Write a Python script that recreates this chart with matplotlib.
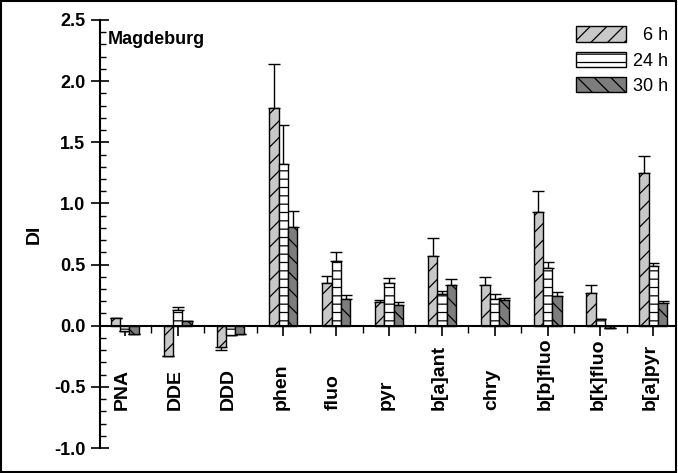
import matplotlib.pyplot as plt
import numpy as np
from matplotlib.patches import Rectangle

plt.rcParams['font.family'] = ['Liberation Sans', 'DejaVu Sans']
plt.rcParams['hatch.linewidth'] = 0.9
plt.rcParams['hatch.color'] = '#222222'

compounds = ["PNA", "DDE", "DDD", "phen", "fluo", "pyr", "b[a]ant",
             "chry", "b[b]fluo", "b[k]fluo", "b[a]pyr"]
times = ["  6 h", "24 h", "30 h"]

# DI values per exposure time
di_6h = [0.06, -0.25, -0.17, 1.78, 0.35, 0.19, 0.57, 0.33, 0.93, 0.27, 1.25]
di_24h = [-0.04, 0.13, -0.08, 1.32, 0.53, 0.35, 0.26, 0.22, 0.47, 0.055, 0.485]
di_30h = [-0.07, 0.04, -0.07, 0.81, 0.22, 0.17, 0.33, 0.21, 0.245, -0.02, 0.185]

# error (one-sided, away from zero)
err_6h = [0.0, 0.0, 0.03, 0.36, 0.06, 0.02, 0.15, 0.07, 0.17, 0.06, 0.14]
err_24h = [0.0, 0.02, 0.0, 0.32, 0.07, 0.04, 0.02, 0.04, 0.05, 0.0, 0.03]
err_30h = [0.0, 0.0, 0.0, 0.13, 0.03, 0.02, 0.05, 0.02, 0.03, 0.0, 0.02]

styles = [
    dict(color="#c8c8c8", hatch="//"),
    dict(color="white", hatch="--"),
    dict(color="#7d7d7d", hatch="\\\\"),
]

fig = plt.figure(figsize=(6.78, 4.73), dpi=100)
ax = fig.add_axes([100 / 678, 25 / 473, 576 / 678, 428 / 473])

x = np.arange(len(compounds))
w = 0.176
series = [(di_6h, err_6h), (di_24h, err_24h), (di_30h, err_30h)]
for i, ((vals, errs), st, lab) in enumerate(zip(series, styles, times)):
    vals = np.array(vals)
    errs = np.array(errs)
    lower = np.where(vals < 0, errs, 0)
    upper = np.where(vals >= 0, errs, 0)
    ax.bar(x + (i - 1) * w, vals, width=w, facecolor=st["color"],
           edgecolor="black", linewidth=1.0, hatch=st["hatch"], label=lab,
           yerr=[lower, upper], zorder=2,
           error_kw=dict(ecolor="black", elinewidth=1.0, capsize=4.2,
                         capthick=1.0, zorder=1))

ax.set_xlim(-0.47, 10.43)
ax.set_ylim(-1.0, 2.5)

for s in ["top", "right"]:
    ax.spines[s].set_visible(False)
ax.spines["bottom"].set_position(("data", 0))
ax.spines["bottom"].set_linewidth(1.5)
ax.spines["left"].set_linewidth(1.5)

ax.set_yticks(np.arange(-1.0, 2.51, 0.5))
ax.set_yticks(np.arange(-1.0, 2.51, 0.1), minor=True)
ax.set_yticklabels([f"{v:.1f}" for v in np.arange(-1.0, 2.51, 0.5)],
                   fontsize=13, fontweight="bold")
ax.tick_params(axis="y", which="major", direction="inout", length=13,
               width=1.2, pad=4)
ax.tick_params(axis="y", which="minor", direction="in", length=4, width=1.0)

ax.set_xticks(x)
ax.set_xticks(x[:-1] + 0.5, minor=True)
ax.set_xticklabels([])
ax.tick_params(axis="x", which="major", direction="out", length=7, width=1.2)
ax.tick_params(axis="x", which="minor", direction="out", length=5, width=1.0)

for xi, name in zip(x, compounds):
    ax.text(xi - 0.05, -0.69, name, rotation=90, ha="center", va="bottom",
            fontsize=14, fontweight="bold")

ax.set_ylabel("DI", fontsize=14, fontweight="bold", labelpad=8)
ax.text(0.014, 0.975, "Magdeburg", transform=ax.transAxes, ha="left",
        va="top", fontsize=13, fontweight="bold")

ax.legend(loc="upper right", bbox_to_anchor=(0.987, 0.985), frameon=False,
          fontsize=13, handlelength=2.8, handleheight=0.95, labelspacing=0.4,
          handletextpad=0.4, borderaxespad=0, borderpad=0)

fig.add_artist(Rectangle((0.002, 0.003), 0.995, 0.994, transform=fig.transFigure,
                         fill=False, edgecolor="black", linewidth=1.5))

fig.savefig("out.png", dpi=100)
